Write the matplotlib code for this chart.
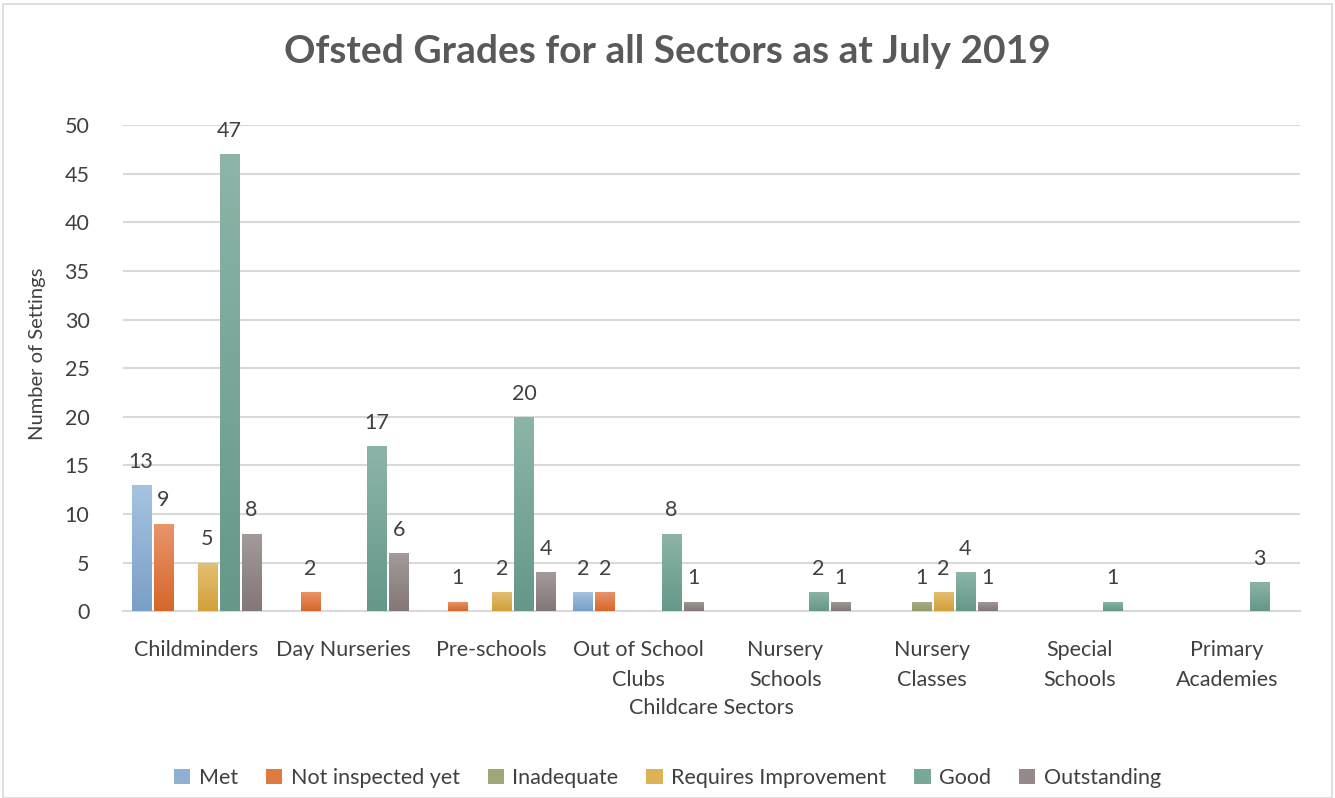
import matplotlib
matplotlib.use("Agg")
import matplotlib.pyplot as plt
import numpy as np
from matplotlib.patches import Rectangle
from matplotlib.colors import LinearSegmentedColormap

categories = ["Childminders", "Day Nurseries", "Pre-schools", "Out of School\nClubs",
              "Nursery\nSchools", "Nursery\nClasses", "Special\nSchools", "Primary\nAcademies"]
series_names = ["Met", "Not inspected yet", "Inadequate", "Requires Improvement", "Good", "Outstanding"]
met = [13, 0, 0, 2, 0, 0, 0, 0]
not_inspected = [9, 2, 1, 2, 0, 0, 0, 0]
inadequate = [0, 0, 0, 0, 0, 1, 0, 0]
requires_improvement = [5, 0, 2, 0, 0, 2, 0, 0]
good = [47, 17, 20, 8, 2, 4, 1, 3]
outstanding = [8, 6, 4, 1, 1, 1, 0, 0]
series_values = [met, not_inspected, inadequate, requires_improvement, good, outstanding]
colors = ["#8EB0D4", "#E07B40", "#A0A67A", "#DDB158", "#78A898", "#968989"]
top_colors = ["#A6C3E1", "#E9956C", "#AAAF88", "#E4C074", "#8DB4A8", "#A49A9A"]
bottom_colors = ["#7A9FC6", "#D6672A", "#949A6C", "#D2A03A", "#65988A", "#837777"]
yticks = [0, 5, 10, 15, 20, 25, 30, 35, 40, 45, 50]

plt.rcParams['font.family'] = ['Lato', 'DejaVu Sans']
text_color = "#404040"

fig = plt.figure(figsize=(13.35, 7.98), dpi=100)
fig.patches.append(Rectangle((0.002, 0.0), 0.996, 0.995, transform=fig.transFigure,
                             fill=False, edgecolor="#D9D9D9", linewidth=1.2))
ax = fig.add_axes([0.092, 0.234, 0.882, 0.609])

x = np.arange(len(categories))
slot = 0.15
bw = 0.13
grad = np.linspace(1, 0, 64).reshape(-1, 1)
for i, (name, vals, c) in enumerate(zip(series_names, series_values, colors)):
    pos = x + (i - 2.5) * slot
    bars = ax.bar(pos, vals, width=bw, color=c, label=name, zorder=3)
    cmap = LinearSegmentedColormap.from_list("g%d" % i, [bottom_colors[i], top_colors[i]])
    for b in bars:
        h = b.get_height()
        if h <= 0:
            continue
        bx, by, w = b.get_x(), b.get_y(), b.get_width()
        im = ax.imshow(grad, extent=[bx, bx + w, by, by + h], aspect="auto", cmap=cmap,
                       vmin=0, vmax=1, zorder=3.5, interpolation="bilinear")
        im.set_clip_path(b)
    for p, v in zip(pos, vals):
        if v > 0:
            ax.text(p, v + 2.4, str(v), ha="center", va="center", fontsize=15.5,
                    color=text_color, zorder=4)

ax.set_xlim(-0.5, len(categories) - 0.5)
ax.set_ylim(0, 50)
ax.set_yticks(yticks)
ax.set_xticks(x)
ax.set_xticklabels(categories, fontsize=15.5, color=text_color, linespacing=1.6)
ax.tick_params(axis="y", labelsize=15.5, labelcolor=text_color, length=0, pad=24)
ax.tick_params(axis="x", length=0, pad=21)
ax.yaxis.grid(True, color="#D9D9D9", linewidth=1.5, zorder=0)
ax.set_axisbelow(True)
for s in ["top", "right", "left"]:
    ax.spines[s].set_visible(False)
ax.spines["bottom"].set_color("#D9D9D9")
ax.spines["bottom"].set_linewidth(1.5)

ax.set_ylabel("Number of Settings", fontsize=14.5, color=text_color, labelpad=7)
ax.yaxis.set_label_coords(-0.065, 0.53)
ax.set_xlabel("Childcare Sectors", fontsize=15.5, color=text_color, labelpad=6)

fig.text(0.5, 0.936, "Ofsted Grades for all Sectors as at July 2019", ha="center", va="center",
         fontsize=28, fontweight="bold", color="#595959")

handles, labels = ax.get_legend_handles_labels()
fig.legend(handles, labels, loc="center", bbox_to_anchor=(0.5, 0.025), ncol=6, frameon=False,
           fontsize=15.5, handlelength=0.75, handleheight=0.75, handletextpad=0.4,
           columnspacing=1.3, labelcolor=text_color)

fig.savefig("out.png", dpi=100)
